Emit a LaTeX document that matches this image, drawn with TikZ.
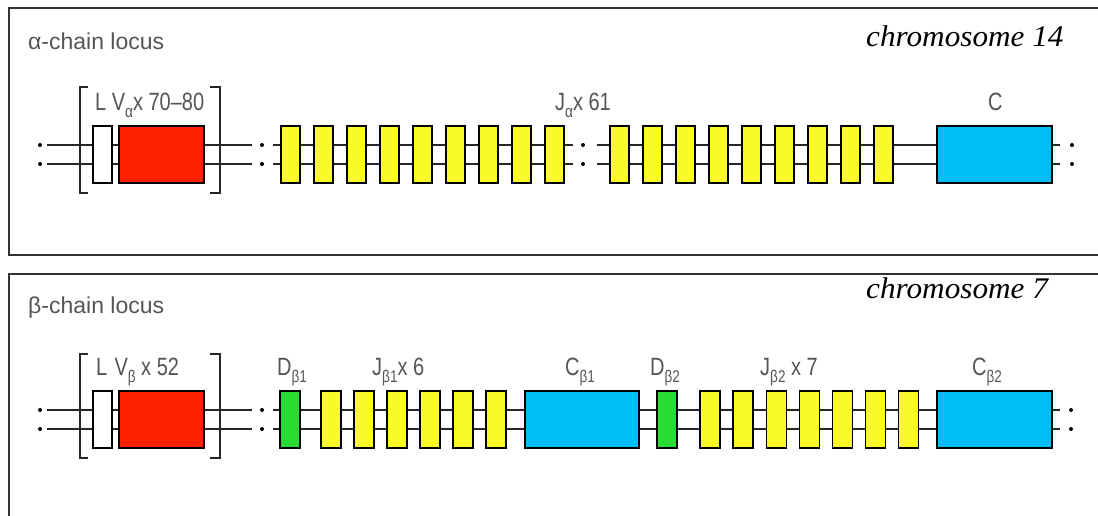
\documentclass[tikz,border=0pt]{standalone}
\usepackage{graphicx}
\usepackage{fontspec}
\setmainfont{Liberation Serif}
\setsansfont{Liberation Sans}
\usetikzlibrary{backgrounds}
\definecolor{vred}{RGB}{255,34,0}
\definecolor{jyel}{RGB}{250,250,40}
\definecolor{cblue}{RGB}{0,190,245}
\definecolor{dgreen}{RGB}{40,220,50}
\definecolor{lgray}{RGB}{85,85,85}
\newcommand\lsub[1]{\raisebox{-0.55ex}{\fontsize{17}{17}\selectfont #1}}
\newcommand\cnd[1]{\scalebox{0.8}[1]{#1}}
\begin{document}
\begin{tikzpicture}[x=1pt,y=-1pt,
  gene/.style={draw=black, line width=1.3pt, inner sep=0pt, minimum height=57pt},
  chrom/.style={draw=black!85, line width=1.3pt},
  brk/.style={draw=black!85, line width=1.8pt},
  dotm/.style={fill=black, draw=none, circle, inner sep=0pt, minimum size=4pt},
  lbl/.style={text=lgray, font=\sffamily\fontsize{25}{25}\selectfont, inner sep=0pt, anchor=base west},
  head/.style={text=lgray, font=\sffamily\fontsize{23}{23}\selectfont, inner sep=0pt, anchor=base west},
  chromo/.style={text=black, font=\itshape\fontsize{30}{30}\selectfont, inner sep=0pt, anchor=base west},
  frame/.style={draw=black!80, line width=2.5pt}]
\useasboundingbox (0,0) rectangle (1098,515);
% frames
\draw[frame] (1100,8) -- (9,8) -- (9,255) -- (1100,255);
\draw[frame] (1100,274) -- (9,274) -- (9,517);
% ---------- alpha locus ----------
\node[head] (ha) at (28,49) {α-chain locus};
\node[chromo] (c14) at (866,46) {\scalebox{1.04}[1]{chromosome 14}};
\node[gene, fill=white, minimum width=19pt] (La) at (102.5,154.5) {};
\node[gene, fill=vred, minimum width=85pt] (Va) at (161.5,154.5) {};
\foreach \i in {0,...,8} {
  \node[gene, fill=jyel, minimum width=19pt] (ja\i) at ({290.5+33*\i},154.5) {};
  \node[gene, fill=jyel, minimum width=19pt] (jb\i) at ({619.5+33*\i},154.5) {};
}
\node[gene, fill=cblue, minimum width=115pt] (Ca) at (994.5,154.5) {};
\foreach \y/\n in {145/u,164/d} {
  \coordinate (a0\n) at (40,\y);
  \coordinate (a1\n) at (47,\y);
  \coordinate (a2\n) at (252,\y);
  \coordinate (a3\n) at (262,\y);
  \coordinate (a4\n) at (273,\y);
  \coordinate (a5\n) at (573,\y);
  \coordinate (a6\n) at (583,\y);
  \coordinate (a7\n) at (597,\y);
  \coordinate (a8\n) at (1060,\y);
  \coordinate (a9\n) at (1072,\y);
}
\begin{scope}[on background layer]
\foreach \n in {u,d} {
  \draw[chrom] (a1\n) -- (a2\n);
  \draw[chrom] (a4\n) -- (a5\n);
  \draw[chrom] (a7\n) -- (a8\n);
}
\end{scope}
\foreach \n in {u,d} {
  \node[dotm] at (a0\n) {};
  \node[dotm] at (a3\n) {};
  \node[dotm] at (a6\n) {};
  \node[dotm] at (a9\n) {};
}
\draw[brk] (88,87) -- (80,87) -- (80,193) -- (88,193);
\draw[brk] (210,87) -- (220,87) -- (220,193) -- (210,193);
\node[lbl] (lva) at (95,110) {\cnd{L V\lsub{α}x 70–80}};
\node[lbl] (lja) at (555,110) {\cnd{J\lsub{α}x 61}};
\node[lbl] (lca) at (988,110) {\cnd{C}};
% ---------- beta locus ----------
\node[head] (hb) at (28,313) {β-chain locus};
\node[chromo] (c7) at (866,298) {\scalebox{1.04}[1]{chromosome 7}};
\node[gene, fill=white, minimum width=19pt] (Lb) at (102.5,419.5) {};
\node[gene, fill=vred, minimum width=85pt] (Vb) at (161.5,419.5) {};
\node[gene, fill=dgreen, minimum width=20pt] (D1) at (290,419.5) {};
\foreach \i in {0,...,5} {
  \node[gene, fill=jyel, minimum width=20pt] (jc\i) at ({331+33*\i},419.5) {};
}
\node[gene, fill=cblue, minimum width=114pt] (C1) at (582,419.5) {};
\node[gene, fill=dgreen, minimum width=20pt] (D2) at (667,419.5) {};
\foreach \i in {0,...,6} {
  \node[gene, fill=jyel, minimum width=20pt] (jd\i) at ({710+33.1*\i},419.5) {};
}
\node[gene, fill=cblue, minimum width=115pt] (C2) at (994.5,419.5) {};
\foreach \y/\n in {410/u,429/d} {
  \coordinate (b0\n) at (40,\y);
  \coordinate (b1\n) at (47,\y);
  \coordinate (b2\n) at (252,\y);
  \coordinate (b3\n) at (262,\y);
  \coordinate (b4\n) at (273,\y);
  \coordinate (b8\n) at (1060,\y);
  \coordinate (b9\n) at (1071,\y);
}
\begin{scope}[on background layer]
\foreach \n in {u,d} {
  \draw[chrom] (b1\n) -- (b2\n);
  \draw[chrom] (b4\n) -- (b8\n);
}
\end{scope}
\foreach \n in {u,d} {
  \node[dotm] at (b0\n) {};
  \node[dotm] at (b3\n) {};
  \node[dotm] at (b9\n) {};
}
\draw[brk] (88,354) -- (80,354) -- (80,458) -- (88,458);
\draw[brk] (210,354) -- (220,354) -- (220,458) -- (210,458);
\node[lbl] (lvb) at (96,375) {\cnd{L\hspace{9pt}V\lsub{β} x 52}};
\node[lbl] (ld1) at (277,375) {\cnd{D\lsub{β1}}};
\node[lbl] (lj1) at (372,375) {\cnd{J\lsub{β1}x 6}};
\node[lbl] (lc1) at (565,375) {\cnd{C\lsub{β1}}};
\node[lbl] (ld2) at (650,375) {\cnd{D\lsub{β2}}};
\node[lbl] (lj2) at (760,375) {\cnd{J\lsub{β2} x 7}};
\node[lbl] (lc2) at (972,375) {\cnd{C\lsub{β2}}};
\end{tikzpicture}
\end{document}
